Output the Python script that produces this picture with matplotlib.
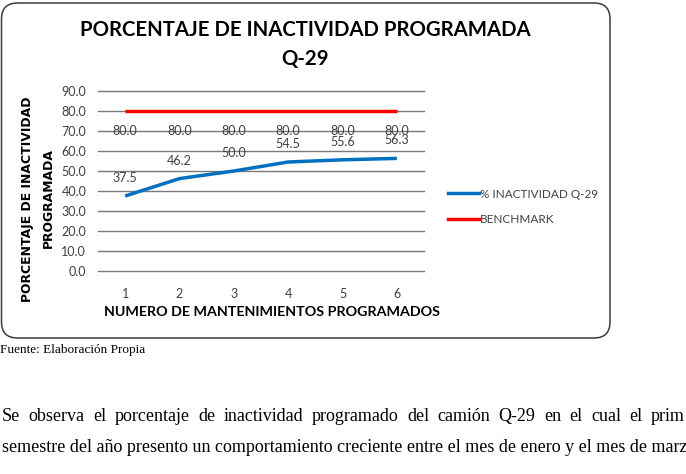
import matplotlib
matplotlib.use("Agg")
import matplotlib.pyplot as plt
from matplotlib.patches import FancyBboxPatch
from matplotlib.transforms import IdentityTransform
from matplotlib.lines import Line2D

# ---------------- data ----------------
mantenimientos = [1, 2, 3, 4, 5, 6]
inactividad_q29 = [37.5, 46.2, 50.0, 54.5, 55.6, 56.3]
benchmark = [80.0, 80.0, 80.0, 80.0, 80.0, 80.0]
y_ticks = [0, 10, 20, 30, 40, 50, 60, 70, 80, 90]
x_tick_labels = ["1", "2", "3", "4", "5", "6"]
series_names = ["% INACTIVIDAD Q-29", "BENCHMARK"]
title_lines = ["PORCENTAJE DE INACTIVIDAD PROGRAMADA", "Q-29"]
x_title = "NUMERO DE MANTENIMIENTOS PROGRAMADOS"
y_title_lines = ["PORCENTAJE DE INACTIVIDAD", "PROGRAMADA"]
source_text = "Fuente: Elaboración Propia"
para_line1 = ["Se", "observa", "el", "porcentaje", "de", "inactividad", "programado",
              "del", "camión", "Q-29", "en", "el", "cual", "el", "prim"]
para_line2 = "semestre del año presento un comportamiento creciente entre el mes de enero y el mes de marz"

# ---------------- figure ----------------
W, H = 686, 474
fig = plt.figure(figsize=(W / 100, H / 100), dpi=100)
fig.patch.set_facecolor("white")
renderer = fig.canvas.get_renderer()

BLUE = "#0070C0"
RED = "#FF0000"
GRID = "#7a7a7a"
TXT = "#404040"
SANS = ["Lato", "DejaVu Sans"]
SERIF = ["Liberation Serif", "DejaVu Serif"]


def fx(x):
    return x / W


def fy(y):
    return 1 - y / H


def fit(t, target, dim="w"):
    for _ in range(4):
        bb = t.get_window_extent(renderer)
        cur = bb.width if dim == "w" else bb.height
        if cur <= 0:
            break
        t.set_fontsize(t.get_fontsize() * target / cur)
    return t.get_fontsize()


# rounded frame of the chart
frame = FancyBboxPatch((1.5, H - 338), 608.5, 335,
                       boxstyle="round,pad=0,rounding_size=16",
                       transform=IdentityTransform(), facecolor="white",
                       edgecolor="#3c3c3c", linewidth=1.1, zorder=0)
fig.add_artist(frame)

# title
t1 = fig.text(fx(305), fy(29.5), title_lines[0], ha="center", va="center",
              fontweight="bold", family=SANS, fontsize=16, color="black")
fs_title = fit(t1, 451)
fig.text(fx(305), fy(59.5), title_lines[1], ha="center", va="center",
         fontweight="bold", family=SANS, fontsize=fs_title, color="black")

# axes
ax = fig.add_axes([fx(98), fy(271), (424 - 98) / W, (271 - 91) / H])
ax.set_facecolor("none")
ax.set_xlim(0.5, 6.5)
ax.set_ylim(0, 90)
for s in ax.spines.values():
    s.set_visible(False)
for v in y_ticks:
    ax.axhline(v, color=GRID, lw=1.0, clip_on=False, zorder=1)
ax.set_xticks(mantenimientos)
ax.set_xticklabels(x_tick_labels, family=SANS, fontsize=9, color=TXT)
ax.set_yticks(y_ticks)
ax.set_yticklabels([f"{v:.1f}" for v in y_ticks], family=SANS, fontsize=9, color=TXT)
ax.tick_params(axis="both", length=0)
ax.tick_params(axis="x", pad=12)
ax.tick_params(axis="y", pad=8.5)

ax.plot(mantenimientos, inactividad_q29, color=BLUE, lw=2.5, zorder=3,
        solid_capstyle="butt", clip_on=False)
ax.plot(mantenimientos, benchmark, color=RED, lw=2.5, zorder=3,
        solid_capstyle="butt", clip_on=False)

for x, v in zip(mantenimientos, inactividad_q29):
    ax.annotate(f"{v:.1f}", (x, v), xytext=(0, 18), textcoords="offset pixels",
                ha="center", va="center", family=SANS, fontsize=9, color=TXT)
for x, v in zip(mantenimientos, benchmark):
    ax.annotate(f"{v:.1f}", (x, v), xytext=(0, -20), textcoords="offset pixels",
                ha="center", va="center", family=SANS, fontsize=9, color=TXT)

# axis titles
xt = fig.text(fx(272.5), fy(311.7), x_title, ha="center", va="center",
              fontweight="bold", family=SANS, fontsize=11, color="black")
fit(xt, 337)
yt1 = fig.text(fx(27), fy(199.5), y_title_lines[0], ha="center", va="center",
               rotation=90, fontweight="bold", family=["DejaVu Sans"], fontsize=9,
               color="black")
fs_y = fit(yt1, 205, "h")
fig.text(fx(48), fy(198.5), y_title_lines[1], ha="center", va="center",
         rotation=90, fontweight="bold", family=["DejaVu Sans"], fontsize=fs_y,
         color="black")

# legend
handles = [Line2D([], [], color=BLUE, lw=2.5), Line2D([], [], color=RED, lw=2.5)]
leg = fig.legend(handles, series_names, loc="center left",
                 bbox_to_anchor=(fx(448), fy(207)), frameon=False,
                 borderpad=0, borderaxespad=0, handlelength=2.6,
                 handletextpad=0.12, labelspacing=1.25,
                 prop={"family": SANS, "size": 8.5})
for t in leg.get_texts():
    t.set_color(TXT)

# text below the chart
src = fig.text(fx(0), fy(352.5), source_text, ha="left", va="baseline",
               family=SERIF, fontsize=9, color="black")
fit(src, 146)

l2 = fig.text(fx(2), fy(451.5), para_line2, ha="left", va="baseline",
              family=SERIF, fontsize=12, color="black")
fs_para = fit(l2, 683)

# justified first line: words spread evenly between x=2 and x=685
words = []
for word in para_line1:
    words.append(fig.text(0, fy(421), word, ha="left", va="baseline",
                          family=SERIF, fontsize=fs_para, color="black"))
widths = [w.get_window_extent(renderer).width for w in words]
gap = (683 - sum(widths)) / (len(words) - 1)
xpos = 2.0
for w, wd in zip(words, widths):
    w.set_x(fx(xpos))
    xpos += wd + gap

fig.savefig("out.png", dpi=100, facecolor="white")
